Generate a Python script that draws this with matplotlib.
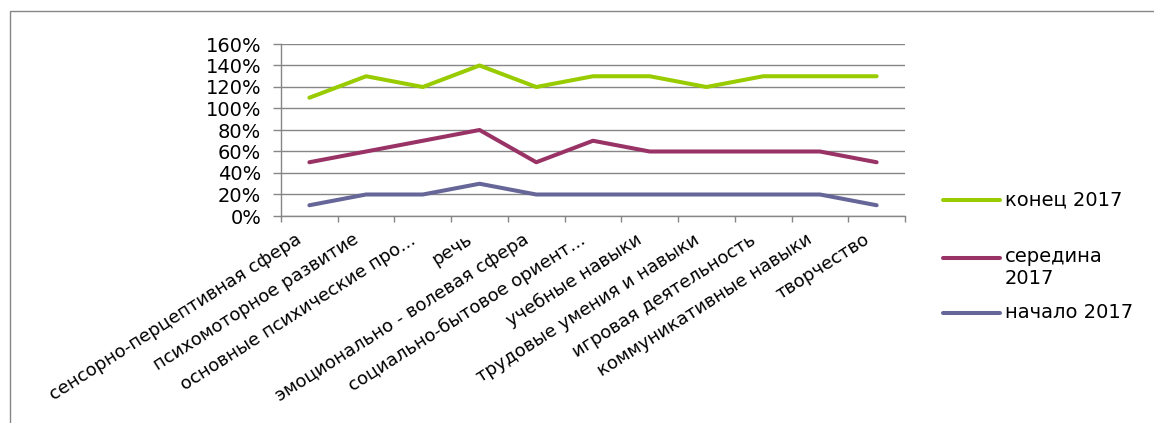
import matplotlib
matplotlib.use("Agg")
import matplotlib.pyplot as plt
import matplotlib.transforms as mtransforms
from matplotlib.patches import Rectangle
from matplotlib.lines import Line2D
from matplotlib.ticker import FixedLocator, PercentFormatter

categories = [
    "сенсорно-перцептивная сфера",
    "психомоторное развитие",
    "основные психические про...",
    "речь",
    "эмоционально - волевая сфера",
    "социально-бытовое ориент...",
    "учебные навыки",
    "трудовые умения и навыки",
    "игровая деятельность",
    "коммуникативные навыки",
    "творчество",
]
series_names = ["конец 2017", "середина 2017", "начало 2017"]
legend_labels = ["конец 2017", "середина\n2017", "начало 2017"]
konets = [110, 130, 120, 140, 120, 130, 130, 120, 130, 130, 130]
seredina = [50, 60, 70, 80, 50, 70, 60, 60, 60, 60, 50]
nachalo = [10, 20, 20, 30, 20, 20, 20, 20, 20, 20, 10]
yticks = [0, 20, 40, 60, 80, 100, 120, 140, 160]

colors = ["#99CC00", "#993366", "#666699"]
grid_c = "#868686"

plt.rcParams['font.family'] = ['DejaVu Sans']

W, H = 1154, 423
fig = plt.figure(figsize=(W / 100, H / 100), dpi=100)
ax = fig.add_axes([281 / W, 1 - 216 / H, 624 / W, 172 / H])

x = list(range(len(categories)))
lines = []
for vals, c, name in zip([konets, seredina, nachalo], colors, series_names):
    ln, = ax.plot(x, vals, color=c, lw=2.9, solid_capstyle='round',
                  solid_joinstyle='round', label=name, zorder=3)
    lines.append(ln)

ax.set_xlim(-0.5, len(categories) - 0.5)
ax.set_ylim(0, 160)
ax.set_yticks(yticks)
ax.yaxis.set_major_formatter(PercentFormatter(decimals=0))
ax.grid(axis='y', color=grid_c, lw=1)
ax.set_axisbelow(True)

for s in ['top', 'right']:
    ax.spines[s].set_visible(False)
for s in ['left', 'bottom']:
    ax.spines[s].set_color(grid_c)
    ax.spines[s].set_linewidth(1)

ax.tick_params(axis='y', length=5.8, width=1, color=grid_c, pad=8.5,
               labelsize=14, labelcolor='black')
ax.set_xticks(x)
ax.set_xticklabels(categories, rotation=32.5, ha='right', va='center',
                   rotation_mode='anchor', fontsize=13)
ax.tick_params(axis='x', which='major', length=0, pad=16)
ax.xaxis.set_minor_locator(FixedLocator([i - 0.5 for i in range(len(categories) + 1)]))
ax.tick_params(axis='x', which='minor', length=4.5, width=1, color=grid_c)
shift = mtransforms.ScaledTranslation(-9 / 100, 0, fig.dpi_scale_trans)
for t in ax.get_xticklabels():
    t.set_transform(t.get_transform() + shift)

# legend
leg_rows = [(200, 0), (258, 1), (313, 2)]
for ypix, i in leg_rows:
    yf = 1 - ypix / H
    fig.add_artist(Line2D([943 / W, 1000 / W], [yf, yf], color=lines[i].get_color(),
                          lw=2.9, solid_capstyle='round'))
    if '\n' in legend_labels[i]:
        fig.text(1005 / W, yf + 11 / H, legend_labels[i], fontsize=14, va='top',
                 ha='left', linespacing=1.2)
    else:
        fig.text(1005 / W, yf, legend_labels[i], fontsize=14, va='center', ha='left')

# chart frame
fig.add_artist(Rectangle((10 / W, -0.05), 1.1, 1 - 11 / H + 0.05, transform=fig.transFigure,
                         fill=False, edgecolor=grid_c, lw=1))

fig.savefig("out.png", dpi=100)
